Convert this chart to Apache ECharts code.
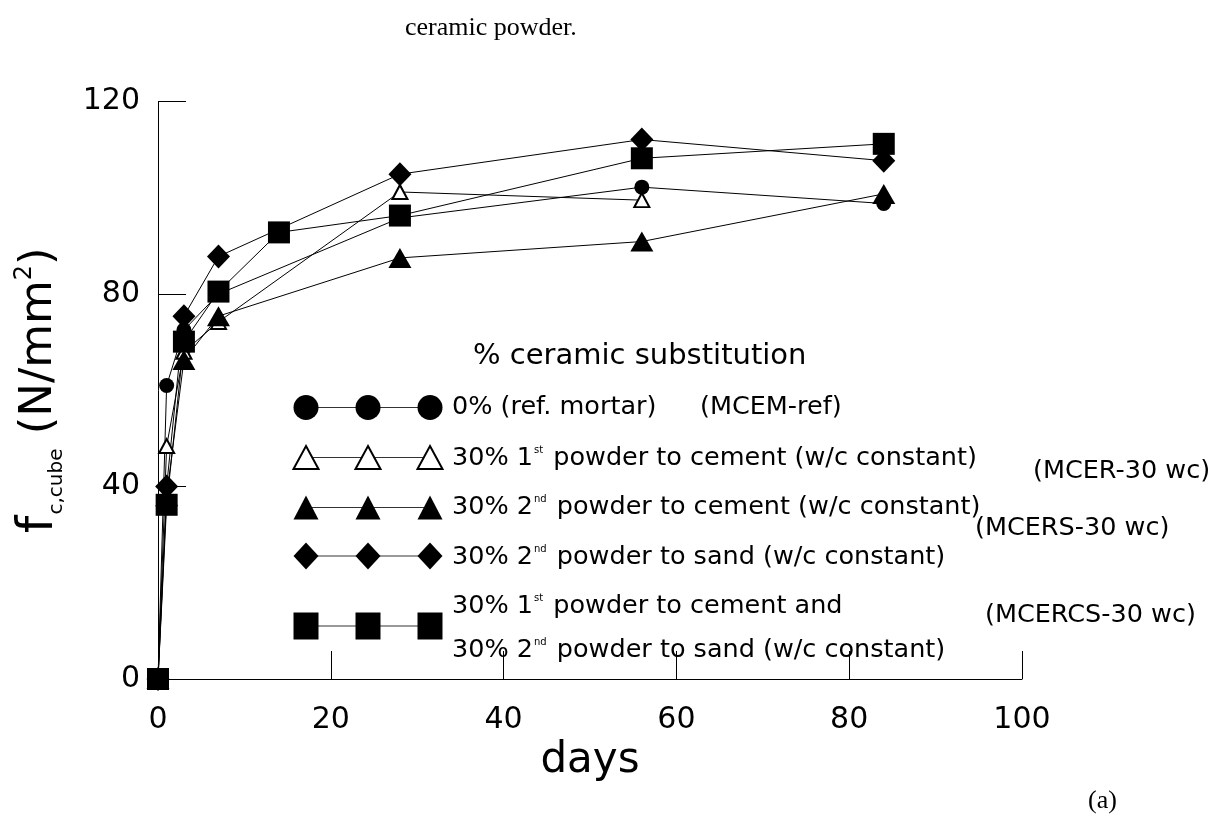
<!DOCTYPE html>
<html>
<head>
<meta charset="utf-8">
<script src="https://cdn.jsdelivr.net/npm/echarts@6/dist/echarts.min.js"></script>
<style>
  html, body { margin: 0; padding: 0; background: #fff; }
  #chart { width: 1227px; height: 825px; }
</style>
</head>
<body>
<div id="chart"></div>
<script>
// Compressive strength of mortars versus curing age
const daysRef = [0, 1, 3, 7, 28, 56, 84];
const fcRef = [0, 61, 72.5, 80, 95.8, 102.2, 98.8];

const daysCer1 = [0, 1, 3, 7, 28, 56];
const fcCer1 = [0, 48.4, 68, 74.2, 101.2, 99.5];

const daysCer2 = [0, 1, 3, 7, 28, 56, 84];
const fcCer2 = [0, 38, 66.3, 75.4, 87.5, 90.9, 100.8];

const daysSand = [0, 1, 3, 7, 28, 56, 84];
const fcSand = [0, 40, 75.4, 87.8, 104.9, 112.1, 107.7];

const daysCombo = [0, 1, 3, 7, 14, 28, 56, 84];
const fcCombo = [0, 36.2, 70.1, 80.5, 92.8, 96.3, 108.2, 111.2];

const xMin = 0, xMax = 100, xStep = 20;
const yMin = 0, yMax = 120, yStep = 40;

const legendTitle = '% ceramic substitution';
const legendRows = [
  '0% (ref. mortar)',
  '30% 1{sup|st} powder to cement (w/c constant)',
  '30% 2{sup|nd} powder to cement (w/c constant)',
  '30% 2{sup|nd} powder to sand (w/c constant)',
  '30% 1{sup|st} powder to cement and',
  '30% 2{sup|nd} powder to sand (w/c constant)'
];
const mixCodes = ['(MCEM-ref)', '(MCER-30 wc)', '(MCERS-30 wc)', '(MCERCS-30 wc)'];

const FONT = '"Comic Sans MS", "DejaVu Sans", sans-serif';
const SERIF = '"Liberation Serif", "Times New Roman", serif';

function pairs(xs, ys) { return xs.map((x, i) => [x, ys[i]]); }

const chart = echarts.init(document.getElementById('chart'), null, { renderer: 'canvas' });

const lineStyle = { color: '#000', width: 1 };
function mkSeries(name, xs, ys, symbol, size, itemStyle) {
  return {
    name, type: 'line', data: pairs(xs, ys), symbol, symbolSize: size,
    showAllSymbol: true, lineStyle, itemStyle, animation: false,
    emphasis: { disabled: true }
  };
}

// legend glyphs drawn as graphic shapes: three markers joined by a thin line
const legX = [306, 368, 430];
const legY = [407.5, 457.5, 507.5, 556, 626];
const gfx = [];
function legLine(y) {
  gfx.push({ type: 'line', shape: { x1: legX[0], y1: y, x2: legX[2], y2: y },
    style: { stroke: '#333', lineWidth: 1 }, z: 10 });
}
function tri(cx, cy, w, h, filled) {
  return { type: 'polygon', shape: { points: [[cx, cy - h / 2], [cx + w / 2, cy + h / 2], [cx - w / 2, cy + h / 2]] },
    style: filled ? { fill: '#000' } : { fill: '#fff', stroke: '#000', lineWidth: 2 }, z: 11 };
}
legLine(legY[0]);
legX.forEach(x => gfx.push({ type: 'circle', shape: { cx: x, cy: legY[0], r: 12.5 }, style: { fill: '#000' }, z: 11 }));
legLine(legY[1]);
legX.forEach(x => gfx.push(tri(x, legY[1], 25, 23, false)));
legLine(legY[2]);
legX.forEach(x => gfx.push(tri(x, legY[2], 25, 24, true)));
legLine(legY[3]);
legX.forEach(x => gfx.push({ type: 'polygon', shape: { points: [[x, legY[3] - 13.5], [x + 12.5, legY[3]], [x, legY[3] + 13.5], [x - 12.5, legY[3]]] }, style: { fill: '#000' }, z: 11 }));
legLine(legY[4]);
legX.forEach(x => gfx.push({ type: 'rect', shape: { x: x - 12.5, y: legY[4] - 13.5, width: 25, height: 27 }, style: { fill: '#000' }, z: 11 }));

const rowTextStyle = (text, x, y) => ({
  type: 'text', x, y, z: 12,
  style: { text, font: '25.5px ' + FONT, fill: '#000', verticalAlign: 'middle', align: 'left',
    rich: { sup: { fontSize: 10, fontFamily: FONT, verticalAlign: 'top', padding: [0, 2, 12, 1] } } }
});
gfx.push({ type: 'text', x: 473, y: 356, z: 12,
  style: { text: legendTitle, font: '29px ' + FONT, fill: '#000', verticalAlign: 'middle' } });
const textY = [407.5, 458, 507.5, 557, 606, 650];
legendRows.forEach((t, i) => gfx.push(rowTextStyle(t, 452, textY[i])));
gfx.push(rowTextStyle(mixCodes[0], 700, 407.5));
gfx.push(rowTextStyle(mixCodes[1], 1033, 471));
gfx.push(rowTextStyle(mixCodes[2], 975, 528));
gfx.push(rowTextStyle(mixCodes[3], 985, 615));

// caption fragments
gfx.push({ type: 'text', x: 405, y: 28, style: { text: 'ceramic powder.', font: '26px ' + SERIF, fill: '#000', verticalAlign: 'middle' } });
gfx.push({ type: 'text', x: 1088, y: 801, style: { text: '(a)', font: '26px ' + SERIF, fill: '#000', verticalAlign: 'middle' } });

const option = {
  backgroundColor: '#fff',
  animation: false,
  grid: { left: 158, right: 205, top: 101.5, bottom: 146, containLabel: false, outerBoundsMode: 'none' },
  xAxis: {
    type: 'value', min: xMin, max: xMax, interval: xStep,
    name: 'days', nameLocation: 'middle', nameGap: 59,
    nameTextStyle: { fontFamily: FONT, fontSize: 42, color: '#000' },
    axisLine: { show: true, lineStyle: { color: '#000', width: 1 } },
    axisTick: { show: true, inside: true, length: 28, lineStyle: { color: '#000', width: 1 } },
    axisLabel: { fontFamily: FONT, fontSize: 30, color: '#000', margin: 26 },
    splitLine: { show: false }
  },
  yAxis: {
    type: 'value', min: yMin, max: yMax, interval: yStep,
    name: '{f|f}{sub|c,cube}{n| (N/mm}{sup|2}{n|)}', nameLocation: 'middle', nameGap: 89, nameRotate: 90,
    nameTextStyle: {
      color: '#000', fontFamily: FONT, fontSize: 45,
      rich: {
        f: { fontFamily: FONT, fontSize: 50, color: '#000', lineHeight: 60, verticalAlign: 'middle' },
        n: { fontFamily: FONT, fontSize: 45, color: '#000', lineHeight: 60, verticalAlign: 'middle' },
        sub: { fontFamily: FONT, fontSize: 20, color: '#000', lineHeight: 60, verticalAlign: 'bottom', padding: [0, 0, 2, 1] },
        sup: { fontFamily: FONT, fontSize: 24, color: '#000', lineHeight: 60, verticalAlign: 'top', padding: [4, 0, 0, 0] }
      }
    },
    axisLine: { show: true, lineStyle: { color: '#000', width: 1 } },
    axisTick: { show: true, inside: true, length: 28, lineStyle: { color: '#000', width: 1 } },
    axisLabel: { fontFamily: FONT, fontSize: 30, color: '#000', margin: 18 },
    splitLine: { show: false }
  },
  series: [
    mkSeries('MCEM-ref', daysRef, fcRef, 'circle', 15, { color: '#000' }),
    mkSeries('MCER-30 wc', daysCer1, fcCer1, 'triangle', [15, 14], { color: '#fff', borderColor: '#000', borderWidth: 2 }),
    mkSeries('2nd powder to cement', daysCer2, fcCer2, 'triangle', [23, 20], { color: '#000' }),
    mkSeries('MCERS-30 wc', daysSand, fcSand, 'diamond', [23, 24], { color: '#000' }),
    mkSeries('MCERCS-30 wc', daysCombo, fcCombo, 'rect', [22, 22], { color: '#000' })
  ],
  graphic: gfx
};
chart.setOption(option);
</script>
</body>
</html>
